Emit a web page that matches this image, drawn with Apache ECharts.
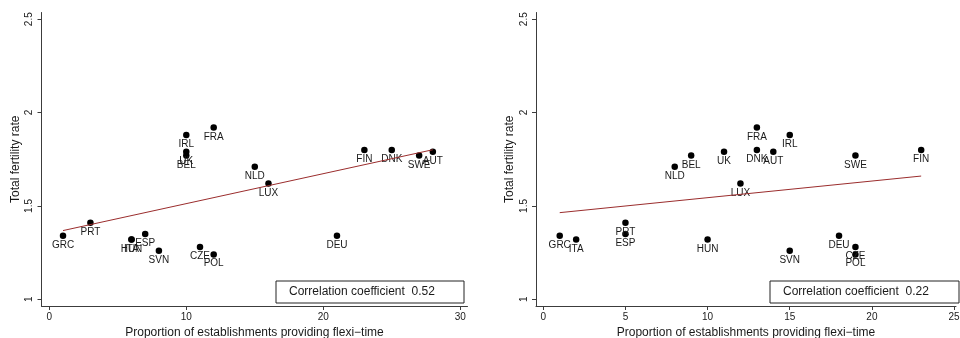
<!DOCTYPE html>
<html>
<head>
<meta charset="utf-8">
<script src="https://cdn.jsdelivr.net/npm/echarts@6/dist/echarts.min.js"></script>
<style>
  html, body { margin: 0; padding: 0; background: #fff; }
  #chart { width: 960px; height: 338px; }
</style>
</head>
<body>
<div id="chart"></div>
<script>
// Flexi-time provision vs. total fertility rate, two measures side by side
const countriesLeft = ['GRC','PRT','HUN','ITA','ESP','SVN','CZE','POL','IRL','FRA','UK','BEL','NLD','LUX','FIN','DNK','SWE','AUT','DEU'];
const flexiLeft     = [1, 3, 6, 6, 7, 8, 11, 12, 10, 12, 10, 10, 15, 16, 23, 25, 27, 28, 21];
const tfrLeft       = [1.34, 1.41, 1.32, 1.32, 1.35, 1.26, 1.28, 1.24, 1.88, 1.92, 1.79, 1.77, 1.71, 1.62, 1.80, 1.80, 1.77, 1.79, 1.34];

const countriesRight = ['GRC','ITA','PRT','ESP','HUN','NLD','BEL','UK','LUX','FRA','DNK','AUT','IRL','SVN','DEU','CZE','POL','SWE','FIN'];
const flexiRight     = [1, 2, 5, 5, 10, 8, 9, 11, 12, 13, 13, 14, 15, 15, 18, 19, 19, 19, 23];
const tfrRight       = [1.34, 1.32, 1.41, 1.35, 1.32, 1.71, 1.77, 1.79, 1.62, 1.92, 1.80, 1.79, 1.88, 1.26, 1.34, 1.28, 1.24, 1.77, 1.80];

// Fitted regression lines (end points)
const fitLeft  = [[1, 1.368], [28, 1.801]];
const fitRight = [[1, 1.464], [23, 1.660]];

const corrLeft  = '0.52';
const corrRight = '0.22';

const xTicksLeft  = [0, 10, 20, 30];
const xTicksRight = [0, 5, 10, 15, 20, 25];
const yTicks      = [1, 1.5, 2, 2.5];

const yTitle = 'Total fertility rate';
const xTitle = 'Proportion of establishments providing flexi\u2212time';

const FONT = '"Liberation Sans", Arial, Helvetica, sans-serif';
const TEXT = '#1a1a1a';
const AXIS = '#3c3c3c';
const FIT  = '#9b2d2d';

function points(names, xs, ys) {
  return names.map((n, i) => ({ name: n, value: [xs[i], ys[i]] }));
}

function xAxis(gridIndex, min, max, ticks) {
  return {
    type: 'value', gridIndex, min, max,
    name: xTitle, nameLocation: 'middle', nameGap: 15,
    nameTextStyle: { fontFamily: FONT, fontSize: 12, color: TEXT },
    axisLine: { show: true, onZero: false, lineStyle: { color: AXIS, width: 1 } },
    axisTick: { show: true, length: 4, customValues: ticks, lineStyle: { color: AXIS } },
    axisLabel: { customValues: ticks, fontFamily: FONT, fontSize: 10, color: TEXT, margin: 6 },
    splitLine: { show: false }
  };
}

function yAxis(gridIndex) {
  return {
    type: 'value', gridIndex, min: 0.964, max: 2.536,
    name: yTitle, nameLocation: 'middle', nameGap: 20, nameRotate: 90,
    nameTextStyle: { fontFamily: FONT, fontSize: 12, color: TEXT },
    axisLine: { show: true, onZero: false, lineStyle: { color: AXIS, width: 1 } },
    axisTick: { show: true, length: 4, customValues: yTicks, lineStyle: { color: AXIS } },
    axisLabel: { customValues: yTicks, rotate: 90, fontFamily: FONT, fontSize: 10, color: TEXT, margin: 7 },
    splitLine: { show: false }
  };
}

function scatter(idx, data) {
  return {
    type: 'scatter', xAxisIndex: idx, yAxisIndex: idx, data,
    symbol: 'circle', symbolSize: 6.5,
    itemStyle: { color: '#000', opacity: 1 },
    label: {
      show: true, position: 'bottom', distance: 1, formatter: '{b}',
      fontFamily: FONT, fontSize: 10, color: TEXT, opacity: 1
    },
    z: 3
  };
}

function fit(idx, data) {
  return {
    type: 'line', xAxisIndex: idx, yAxisIndex: idx, data,
    showSymbol: false, symbol: 'none',
    lineStyle: { color: FIT, width: 1 },
    z: 4, silent: true
  };
}

function corrBox(x, y, w, h, value) {
  return {
    type: 'group', left: x, top: y,
    children: [
      { type: 'rect', shape: { x: 0, y: 0, width: w, height: h },
        style: { fill: '#fff', stroke: '#222', lineWidth: 1 } },
      { type: 'text', x: 13, y: h / 2,
        style: { text: 'Correlation coefficient  ' + value, font: '12px ' + FONT,
                 fill: TEXT, verticalAlign: 'middle' } }
    ]
  };
}

const chart = echarts.init(document.getElementById('chart'), null, { renderer: 'canvas' });
chart.setOption({
  animation: false,
  backgroundColor: '#fff',
  grid: [
    { left: 41.5, top: 12.5, width: 426, height: 293.5, containLabel: false, outerBoundsMode: 'none' },
    { left: 536, top: 12.5, width: 420, height: 293.5, containLabel: false, outerBoundsMode: 'none' }
  ],
  xAxis: [
    xAxis(0, -0.57, 30.53, xTicksLeft),
    xAxis(1, -0.444, 25.12, xTicksRight)
  ],
  yAxis: [yAxis(0), yAxis(1)],
  series: [
    fit(0, fitLeft),
    scatter(0, points(countriesLeft, flexiLeft, tfrLeft)),
    fit(1, fitRight),
    scatter(1, points(countriesRight, flexiRight, tfrRight))
  ],
  graphic: [
    corrBox(275.5, 280.5, 188, 22, corrLeft),
    corrBox(769.5, 280.5, 189, 22, corrRight)
  ]
});
</script>
</body>
</html>
